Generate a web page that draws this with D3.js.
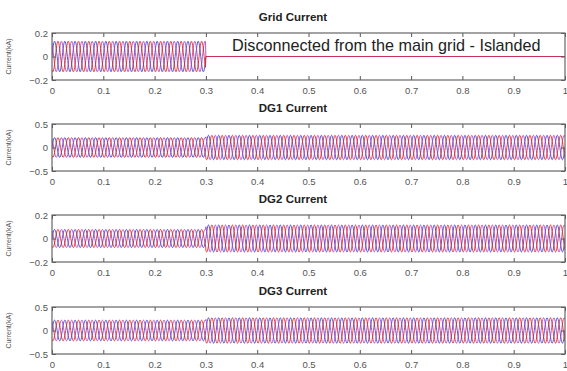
<!DOCTYPE html>
<html>
<head>
<meta charset="utf-8">
<script src="https://cdn.jsdelivr.net/npm/d3@7"></script>
<style>
  body { margin: 0; background: #fff; }
  text { font-family: "Liberation Sans", Arial, sans-serif; }
</style>
</head>
<body>
<svg id="chart" width="567" height="371"></svg>
<script>
// chart values
const panelTitles = ["Grid Current", "DG1 Current", "DG2 Current", "DG3 Current"];
const yLimits = [[-0.2, 0.2], [-0.5, 0.5], [-0.2, 0.2], [-0.5, 0.5]];
const yTickValues = [[0.2, 0, -0.2], [0.5, 0, -0.5], [0.2, 0, -0.2], [0.5, 0, -0.5]];
const xTickValues = [0, 0.1, 0.2, 0.3, 0.4, 0.5, 0.6, 0.7, 0.8, 0.9, 1];
const ampBefore = [0.13, 0.21, 0.077, 0.22];   // kA peak, t < 0.3 s
const ampAfter = [0, 0.26, 0.115, 0.27];       // kA peak, t >= 0.3 s
const switchTime = 0.3;
const freqHz = 50;
// one cycle of the phase current, normalised, 24 samples
const cycleShape = [0, 0.26, 0.5, 0.71, 0.87, 0.97, 1, 0.97, 0.87, 0.71, 0.5, 0.26,
                    0, -0.26, -0.5, -0.71, -0.87, -0.97, -1, -0.97, -0.87, -0.71, -0.5, -0.26];
const phaseShift = [0, 8, 16];                  // samples (0, 120, 240 deg)
const phaseColors = ["#3a3ad0", "#b040b8", "#e02020"];
const annotation = "Disconnected from the main grid - Islanded";

const svg = d3.select("#chart");
const left = 52, right = 565, plotH = 47;
const tops = [33, 124, 215, 307];

const xs = d3.scaleLinear().domain([0, 1]).range([left, right]);

function phaseSeries(p, k) {
    const n = cycleShape.length;
    const pts = [];
    const total = freqHz * n;
    for (let i = 0; i <= total; i++) {
        const t = i / total;
        const a = t < switchTime ? ampBefore[p] : ampAfter[p];
        pts.push([t, a * cycleShape[(i + phaseShift[k]) % n]]);
    }
    return pts;
}

panelTitles.forEach((title, p) => {
    const top = tops[p];
    const ys = d3.scaleLinear().domain(yLimits[p]).range([top + plotH, top]);
    const g = svg.append("g");

    g.append("rect").attr("x", left).attr("y", top).attr("width", right - left).attr("height", plotH)
        .attr("fill", "#fff");

    const clipId = "clip" + p;
    g.append("clipPath").attr("id", clipId).append("rect")
        .attr("x", left).attr("y", top).attr("width", right - left).attr("height", plotH);

    const line = d3.line().x(d => xs(d[0])).y(d => ys(d[1]));
    const lines = g.append("g").attr("clip-path", `url(#${clipId})`);
    phaseColors.forEach((c, k) => {
        lines.append("path").attr("d", line(phaseSeries(p, k)))
            .attr("fill", "none").attr("stroke", c).attr("stroke-width", 1).attr("stroke-opacity", 0.85);
    });

    // axes: bottom/left with labels, top/right ticks only
    const tickLen = 4;
    g.append("g").attr("transform", `translate(0,${top + plotH})`)
        .call(d3.axisBottom(xs).tickValues(xTickValues).tickSizeInner(-tickLen).tickSizeOuter(0)
            .tickPadding(7).tickFormat(d3.format("")))
        .call(a => a.select(".domain").remove());
    g.append("g").attr("transform", `translate(0,${top})`)
        .call(d3.axisTop(xs).tickValues(xTickValues).tickSizeInner(-tickLen).tickSizeOuter(0).tickFormat(""))
        .call(a => a.select(".domain").remove());
    g.append("g").attr("transform", `translate(${left},0)`)
        .call(d3.axisLeft(ys).tickValues(yTickValues[p]).tickSizeInner(-tickLen).tickSizeOuter(0)
            .tickPadding(4).tickFormat(d3.format("")))
        .call(a => a.select(".domain").remove());
    g.append("g").attr("transform", `translate(${right},0)`)
        .call(d3.axisRight(ys).tickValues(yTickValues[p]).tickSizeInner(-tickLen).tickSizeOuter(0).tickFormat(""))
        .call(a => a.select(".domain").remove());
    g.selectAll(".tick line").attr("stroke", "#555");
    g.selectAll(".tick text").attr("font-size", 9.5).attr("fill", "#555")
        .attr("font-family", "'Liberation Sans Narrow', 'Liberation Sans', Arial, sans-serif");

    g.append("rect").attr("x", left).attr("y", top).attr("width", right - left).attr("height", plotH)
        .attr("fill", "none").attr("stroke", "#666").attr("stroke-width", 1.2);

    g.append("text").attr("x", 293).attr("y", top - 12).attr("text-anchor", "middle")
        .attr("font-size", 11.5).attr("font-weight", "bold").attr("fill", "#222").text(title);

    g.append("text").attr("transform", `translate(11,${top + plotH / 2}) rotate(-90)`)
        .attr("text-anchor", "middle").attr("font-size", 7).attr("fill", "#555").text("Current(kA)");
});

svg.append("text").attr("x", 232).attr("y", 51).attr("font-size", 16.2).attr("fill", "#222")
    .text(annotation);
</script>
</body>
</html>
